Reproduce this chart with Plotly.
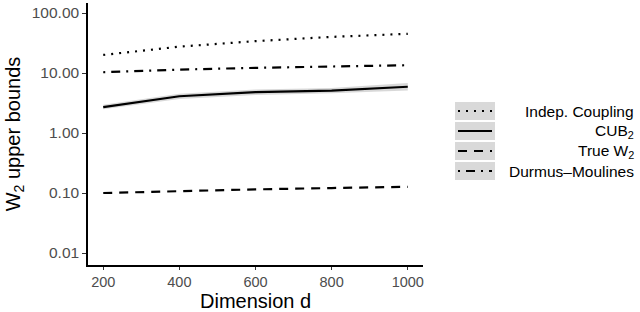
import plotly.graph_objects as go

dims = [200, 400, 600, 800, 1000]
indep = [20.0, 27.5, 34.0, 40.0, 45.0]
cub2 = [2.7, 4.1, 4.8, 5.1, 5.9]
cub2_lo = [2.5, 3.7, 4.3, 4.6, 5.1]
cub2_hi = [2.95, 4.5, 5.3, 5.6, 6.8]
true_w2 = [0.100, 0.108, 0.115, 0.121, 0.127]
durmus = [10.3, 11.4, 12.2, 12.9, 13.5]

ytick_vals = [100, 10, 1, 0.1, 0.01]
ytick_text = ["100.00", "10.00", "1.00", "0.10", "0.01"]
xtick_vals = [200, 400, 600, 800, 1000]

legend_labels = ["Indep. Coupling", "CUB<sub>2</sub>", "True W<sub>2</sub>", "Durmus\u2013Moulines"]
DOT = "2px,6px"
DASH = "9px,7px"
DOTDASH = "2px,6px,9px,6px"
legend_dashes = [DOT, "solid", DASH, DOTDASH]

FONT = "Liberation Sans, Arial, sans-serif"
LW = 2.2

fig = go.Figure()
fig.add_trace(go.Scatter(x=dims + dims[::-1], y=cub2_hi + cub2_lo[::-1], mode="lines", fill="toself",
                         fillcolor="rgba(190,190,190,0.6)", line=dict(width=0),
                         hoverinfo="skip", showlegend=False))
fig.add_trace(go.Scatter(x=dims, y=indep, mode="lines", line=dict(color="black", width=LW, dash=DOT), showlegend=False))
fig.add_trace(go.Scatter(x=dims, y=durmus, mode="lines", line=dict(color="black", width=LW, dash=DOTDASH), showlegend=False))
fig.add_trace(go.Scatter(x=dims, y=cub2, mode="lines", line=dict(color="black", width=LW), showlegend=False))
fig.add_trace(go.Scatter(x=dims, y=true_w2, mode="lines", line=dict(color="black", width=LW, dash=DASH), showlegend=False))

L, R, T, B = 88, 217, 3, 47
W, H = 640, 312
pw, ph = W - L - R, H - T - B

def px(x):
    return (x - L) / pw

def py(y):
    return (H - B - y) / ph

shapes = []
annotations = []
for i, (lab, dsh) in enumerate(zip(legend_labels, legend_dashes)):
    cy = 111 + 20 * i
    shapes.append(dict(type="rect", xref="paper", yref="paper", x0=px(455), x1=px(495),
                       y0=py(cy + 9), y1=py(cy - 9), fillcolor="#D9D9D9", line=dict(width=0), layer="above"))
    shapes.append(dict(type="line", xref="paper", yref="paper", x0=px(458), x1=px(492),
                       y0=py(cy), y1=py(cy), line=dict(color="black", width=LW, dash=dsh), layer="above"))
    annotations.append(dict(xref="paper", yref="paper", x=px(636), y=py(cy), text=lab, showarrow=False,
                            xanchor="right", yanchor="middle", font=dict(family=FONT, size=15.5, color="black")))

annotations.append(dict(xref="paper", yref="paper", x=0.5, y=py(301), text="Dimension d", showarrow=False,
                        xanchor="center", yanchor="middle", font=dict(family=FONT, size=20, color="black")))

fig.update_layout(
    width=W, height=H, margin=dict(l=L, r=R, t=T, b=B, autoexpand=False),
    paper_bgcolor="white", plot_bgcolor="white",
    font=dict(family=FONT),
    shapes=shapes, annotations=annotations,
    xaxis=dict(range=[160, 1040], tickvals=xtick_vals, showgrid=False, zeroline=False, automargin=False,
               showline=True, linecolor="black", linewidth=1.5, ticks="outside", ticklen=3,
               tickcolor="#333333", tickfont=dict(size=14.5, color="#4D4D4D")),
    yaxis=dict(type="log", range=[-2.2, 2.167], tickvals=ytick_vals, ticktext=ytick_text, automargin=False,
               showgrid=False, zeroline=False, showline=True, linecolor="black", linewidth=1.5,
               ticks="outside", ticklen=4, tickcolor="#333333", tickfont=dict(size=15.5, color="#4D4D4D"),
               title=dict(text="W<sub>2</sub> upper bounds", font=dict(size=20, color="black"), standoff=6)),
)

fig.write_html("out.html", config={"displayModeBar": False},
               post_script="document.body.style.margin='0';document.body.style.padding='0';")
